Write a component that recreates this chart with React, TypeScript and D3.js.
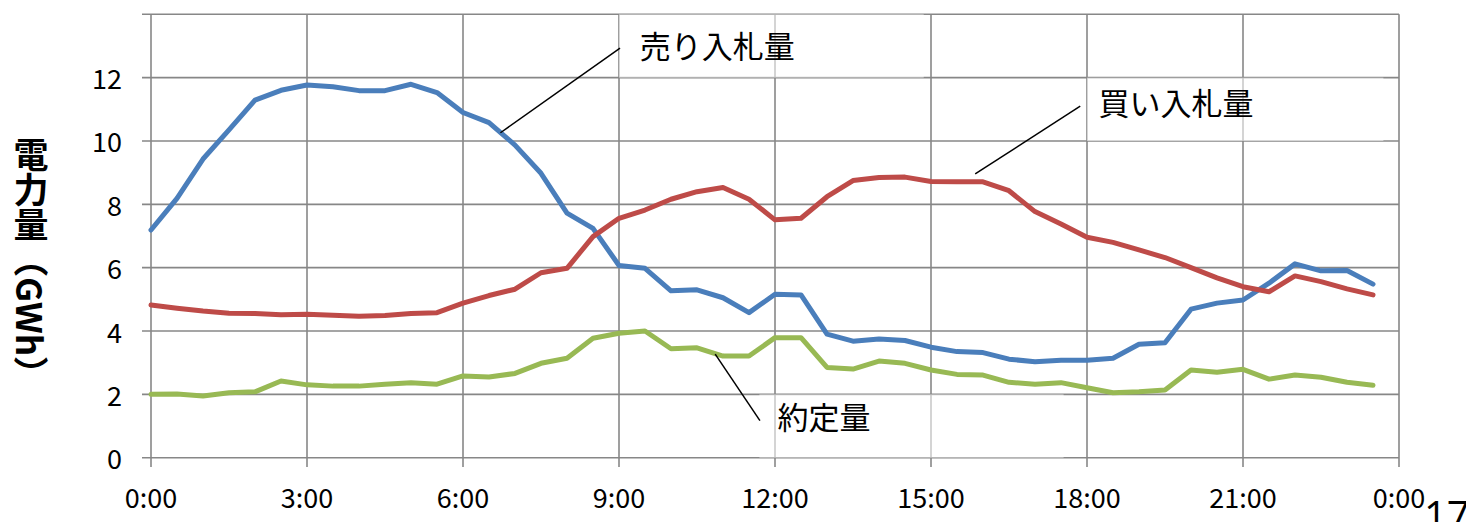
import React from "react";
import * as d3 from "d3";

// Half-hour trading slots (0:00 … 23:30), positioned in hours
const slots: string[] = [
  "0:00", "0:30", "1:00", "1:30", "2:00", "2:30", "3:00", "3:30",
  "4:00", "4:30", "5:00", "5:30", "6:00", "6:30", "7:00", "7:30",
  "8:00", "8:30", "9:00", "9:30", "10:00", "10:30", "11:00", "11:30",
  "12:00", "12:30", "13:00", "13:30", "14:00", "14:30", "15:00", "15:30",
  "16:00", "16:30", "17:00", "17:30", "18:00", "18:30", "19:00", "19:30",
  "20:00", "20:30", "21:00", "21:30", "22:00", "22:30", "23:00", "23:30",
];

// 売り入札量 (GWh)
const sellBids: number[] = [
  7.19, 8.19, 9.43, 10.35, 11.29, 11.6, 11.77, 11.71, 11.59, 11.59, 11.79, 11.53,
  10.9, 10.58, 9.87, 8.98, 7.72, 7.24, 6.07, 5.98, 5.27, 5.3, 5.05, 4.58,
  5.16, 5.14, 3.9, 3.68, 3.75, 3.7, 3.49, 3.35, 3.32, 3.11, 3.03, 3.08,
  3.08, 3.14, 3.58, 3.63, 4.69, 4.88, 4.98, 5.51, 6.12, 5.9, 5.91, 5.48,
];

// 買い入札量 (GWh)
const buyBids: number[] = [
  4.82, 4.72, 4.63, 4.56, 4.55, 4.51, 4.53, 4.5, 4.47, 4.49, 4.55, 4.58,
  4.88, 5.12, 5.32, 5.84, 5.98, 6.98, 7.56, 7.82, 8.16, 8.4, 8.53, 8.16,
  7.51, 7.56, 8.24, 8.75, 8.85, 8.86, 8.72, 8.71, 8.71, 8.43, 7.77, 7.38,
  6.96, 6.8, 6.56, 6.32, 6.0, 5.68, 5.4, 5.24, 5.74, 5.56, 5.33, 5.14,
];

// 約定量 (GWh)
const contracted: number[] = [
  2.0, 2.01, 1.95, 2.05, 2.08, 2.42, 2.3, 2.26, 2.26, 2.32, 2.37, 2.32,
  2.58, 2.55, 2.66, 2.98, 3.14, 3.77, 3.93, 4.0, 3.44, 3.47, 3.21, 3.21,
  3.79, 3.79, 2.85, 2.8, 3.05, 2.98, 2.77, 2.63, 2.61, 2.38, 2.32, 2.37,
  2.21, 2.05, 2.08, 2.14, 2.77, 2.7, 2.79, 2.48, 2.61, 2.54, 2.38, 2.29,
];

const xTickHours: number[] = [0, 3, 6, 9, 12, 15, 18, 21, 24];
const xTickLabels: string[] = ["0:00", "3:00", "6:00", "9:00", "12:00", "15:00", "18:00", "21:00", "0:00"];
const yTicks: number[] = [0, 2, 4, 6, 8, 10, 12];

const COLORS = { sell: "#4A7EBB", buy: "#BE4B48", contracted: "#98B954" };

const toHours = (s: string) => {
  const [h, m] = s.split(":").map(Number);
  return h + m / 60;
};

// Callout labels: text box, text anchor and leader line, all in data units (hours, GWh)
const callouts = [
  { text: "売り入札量", box: [9.0, 14.86, 12.0, 14.0], textAt: [9.4, 13.06], leader: [[6.72, 10.26], [9.02, 12.93]] },
  { text: "買い入札量", box: [18.0, 23.7, 10.0, 12.0], textAt: [18.22, 11.25], leader: [[15.85, 8.96], [17.87, 11.1]] },
  { text: "約定量", box: [11.7, 17.55, 0.0, 2.0], textAt: [12.05, 1.32], leader: [[10.85, 3.27], [11.71, 1.17]] },
];

export default function App() {
  const W = 1466;
  const H = 522;
  const x = d3.scaleLinear().domain([0, 24]).range([151, 1399]);
  const y = d3.scaleLinear().domain([0, 14]).range([457.7, 14.3]);

  const hours = slots.map(toHours);
  const line = d3
    .line<number>()
    .x((_, i) => x(hours[i]))
    .y((v) => y(v));

  const gridColor = "#878787";
  const jp = "'Noto Sans CJK JP', 'Noto Sans', sans-serif";
  const seriesWidth = 5;

  return (
    <svg
      width={W}
      height={H}
      viewBox={`0 0 ${W} ${H}`}
      style={{ position: "absolute", left: 0, top: 0, background: "#fff" }}
    >
      {/* horizontal gridlines with short tick stubs on the left */}
      {yTicks.concat([14]).map((v) => (
        <line key={`h${v}`} x1={142} x2={x(24)} y1={y(v)} y2={y(v)} stroke={gridColor} strokeWidth={1.6} />
      ))}
      {/* vertical gridlines with tick stubs below the axis */}
      {xTickHours.map((h) => (
        <line key={`v${h}`} x1={x(h)} x2={x(h)} y1={y(14)} y2={467} stroke={gridColor} strokeWidth={1.6} />
      ))}

      {/* callout boxes */}
      {callouts.map((c) => (
        <rect
          key={`b${c.text}`}
          x={x(c.box[0])}
          y={y(c.box[3])}
          width={x(c.box[1]) - x(c.box[0])}
          height={y(c.box[2]) - y(c.box[3])}
          fill="#fff"
          fillOpacity={0.55}
        />
      ))}

      {/* y tick labels */}
      {yTicks.map((v) => (
        <text
          key={`yl${v}`}
          x={122}
          y={y(v)}
          textAnchor="end"
          dominantBaseline="central"
          fontFamily={jp}
          fontSize={27}
          fill="#000"
        >
          {v}
        </text>
      ))}
      {/* x tick labels */}
      {xTickHours.map((h, i) => (
        <text key={`xl${i}`} x={x(h)} y={508} textAnchor="middle" fontFamily={jp} fontSize={27} fill="#000">
          {xTickLabels[i]}
        </text>
      ))}

      {/* y axis title, vertical */}
      <text
        x={31}
        y={137}
        fontFamily={jp}
        fontSize={35}
        fontWeight="bold"
        fill="#000"
        style={{ writingMode: "vertical-rl" as any }}
      >
        電力量（GWh）
      </text>

      {/* series */}
      <path d={line(sellBids) ?? ""} fill="none" stroke={COLORS.sell} strokeWidth={seriesWidth} strokeLinejoin="round" strokeLinecap="round" />
      <path d={line(buyBids) ?? ""} fill="none" stroke={COLORS.buy} strokeWidth={seriesWidth} strokeLinejoin="round" strokeLinecap="round" />
      <path d={line(contracted) ?? ""} fill="none" stroke={COLORS.contracted} strokeWidth={seriesWidth} strokeLinejoin="round" strokeLinecap="round" />

      {/* leader lines and callout text */}
      {callouts.map((c) => (
        <g key={`c${c.text}`}>
          <line
            x1={x(c.leader[0][0])}
            y1={y(c.leader[0][1])}
            x2={x(c.leader[1][0])}
            y2={y(c.leader[1][1])}
            stroke="#000"
            strokeWidth={1.5}
          />
          <text
            x={x(c.textAt[0])}
            y={y(c.textAt[1])}
            dominantBaseline="central"
            fontFamily={jp}
            fontSize={31}
            fill="#000"
          >
            {c.text}
          </text>
        </g>
      ))}

      {/* page number */}
      <text x={1424} y={530} fontFamily="'Open Sans', sans-serif" fontSize={40} fill="#000">
        17
      </text>
    </svg>
  );
}
